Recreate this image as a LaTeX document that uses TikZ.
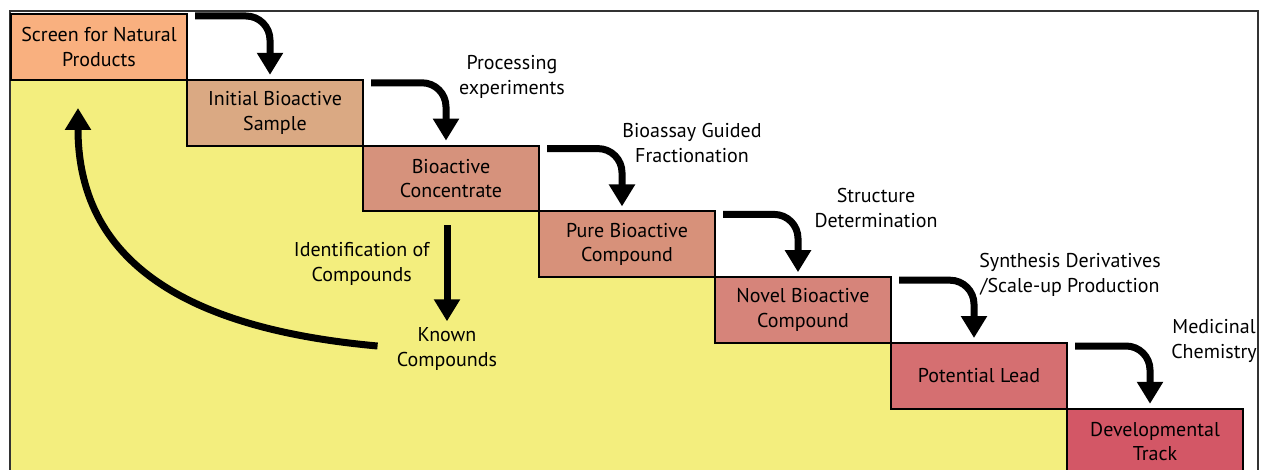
\documentclass[tikz,border=0pt]{standalone}
\usepackage{fontspec}
\setmainfont{PT Sans}
\usepackage{xcolor}
\usetikzlibrary{arrows.meta,positioning,backgrounds}
\definecolor{npyellow}{RGB}{243,238,126}
\definecolor{npframe}{RGB}{50,50,50}
\definecolor{npscreen}{RGB}{249,176,127}
\definecolor{npinitial}{RGB}{218,169,131}
\definecolor{npconc}{RGB}{214,146,124}
\definecolor{nppure}{RGB}{215,145,122}
\definecolor{npnovel}{RGB}{214,132,122}
\definecolor{nplead}{RGB}{213,111,113}
\definecolor{nptrack}{RGB}{211,87,102}

\begin{document}
\begin{tikzpicture}[
    x=0.5pt, y=0.5pt,
    stage/.style={draw, line width=1pt, minimum width=88pt, minimum height=32.9pt,
                  inner sep=1pt, outer sep=0pt, align=center,
                  font=\fontsize{10}{12.3}\selectfont},
    flow/.style={-{Triangle[width=12.5pt,length=11pt]}, line width=3.5pt, rounded corners=12pt},
    lbl/.style={align=center, inner sep=1pt, font=\fontsize{10}{12.3}\selectfont}
]
    \useasboundingbox (0,0) rectangle (1262,-470);

    % Stages, stepping down to the right
    \node[stage, fill=npscreen, anchor=north west] (screen) at (11,-14) {Screen for Natural\\Products};
    \node[stage, fill=npinitial, below right=0pt and 0pt of screen] (initial) {Initial Bioactive\\Sample};
    \node[stage, fill=npconc, below right=0pt and 0pt of initial] (concentrate) {Bioactive\\Concentrate};
    \node[stage, fill=nppure, below right=0pt and 0pt of concentrate] (pure) {Pure Bioactive\\Compound};
    \node[stage, fill=npnovel, below right=0pt and 0pt of pure] (novel) {Novel Bioactive\\Compound};
    \node[stage, fill=nplead, below right=0pt and 0pt of novel] (lead) {Potential Lead};
    \node[stage, fill=nptrack, below right=0pt and 0pt of lead] (track) {Developmental\\Track};

    % Yellow area and frame
    \begin{scope}[on background layer]
        \fill[npyellow] (screen.south west) -| (initial.south west) -| (concentrate.south west)
            -| (pure.south west) -| (novel.south west) -| (lead.south west) -| (track.south west)
            -- ([yshift=-10pt]track.south west) -| (screen.south west) -- cycle;
        \draw[npframe, line width=1pt] (10,-11) rectangle (1258,-490);
    \end{scope}

    % Step labels
    \node[lbl] (processing) at (512,-77) {Processing\\experiments};
    \node[lbl] (bioassay) at (692,-143) {Bioassay Guided\\Fractionation};
    \node[lbl] (structure) at (876,-208) {Structure\\Determination};
    \node[lbl] (synthesis) at (1070,-275) {Synthesis Derivatives\\/Scale-up Production};
    \node[lbl] (medchem) at (1214,-341) {Medicinal\\Chemistry};

    % Step arrows
    \draw[flow] ([xshift=4pt,yshift=-1pt]screen.north east) -| ([xshift=-2.5pt,yshift=2.5pt]initial.north);
    \draw[flow] ([xshift=4pt,yshift=-1.5pt]initial.north east) -| ([xshift=-2.5pt,yshift=2.5pt]concentrate.north);
    \draw[flow] ([xshift=4pt,yshift=-1.5pt]concentrate.north east) -| ([xshift=-2.5pt,yshift=2.5pt]pure.north);
    \draw[flow] ([xshift=4pt,yshift=-1.5pt]pure.north east) -| ([xshift=-2.5pt,yshift=2.5pt]novel.north);
    \draw[flow] ([xshift=4pt,yshift=-1.5pt]novel.north east) -| ([xshift=-2.5pt,yshift=2.5pt]lead.north);
    \draw[flow] ([xshift=4pt,yshift=-1.5pt]lead.north east) -| ([xshift=-2.5pt,yshift=2.5pt]track.north);

    % Known compounds go back to the screen
    \node[lbl] (known) at (447,-349) {Known\\Compounds};
    \draw[flow] ([xshift=-2pt,yshift=-7pt]concentrate.south) -- ([yshift=2pt]known.north)
        node[lbl, pos=0.4, left=6pt] {Identification of\\Compounds};
    \coordinate (rescreen) at (78,-108);
    \draw[flow] ([xshift=-8.5pt,yshift=1.5pt]known.west) .. controls (200,-330) and (78,-270) .. (rescreen);
\end{tikzpicture}
\end{document}
